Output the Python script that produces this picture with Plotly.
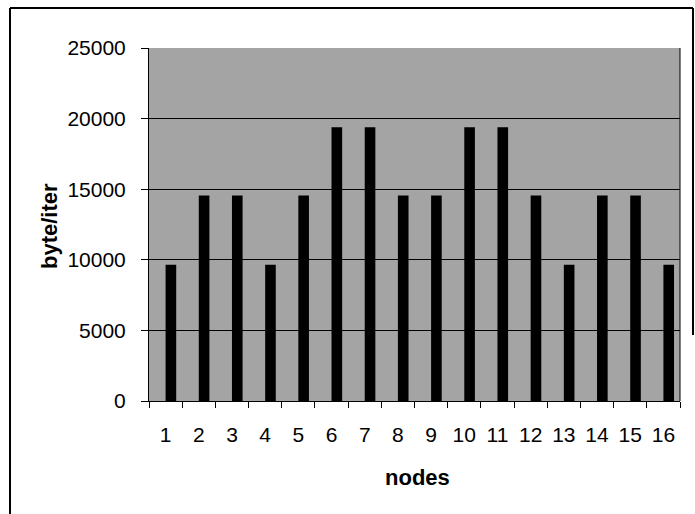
import plotly.graph_objects as go

nodes = [str(i) for i in range(1, 17)]
bytes_per_iter = [9650, 14550, 14550, 9650, 14550, 19380, 19380, 14550,
                  14550, 19380, 19380, 14550, 9650, 14550, 14550, 9650]
y_ticks = [0, 5000, 10000, 15000, 20000, 25000]

W, H = 695, 514
L, R, T, B = 149, 15, 48, 113
pw, ph = W - L - R, H - T - B

def px(x):
    return (x - L) / pw

def py(y):
    return (T + ph - y) / ph

font = "Liberation Sans, Arial, sans-serif"

fig = go.Figure(go.Bar(
    x=nodes, y=bytes_per_iter,
    width=0.32, offset=0.0,
    marker=dict(color="black", line=dict(width=0)),
))

frame = dict(color="black", width=2)

fig.update_layout(
    width=W, height=H,
    margin=dict(l=L, r=R, t=T, b=B),
    paper_bgcolor="white",
    plot_bgcolor="#a4a4a4",
    showlegend=False,
    font=dict(family=font, size=21, color="black"),
    xaxis=dict(
        type="category",
        tickson="boundaries",
        ticks="outside", ticklen=6, tickcolor="black", tickwidth=1,
        showline=True, linecolor="black", linewidth=1,
        showgrid=False,
        tickfont=dict(size=21),
        ticklabelstandoff=15,
    ),
    yaxis=dict(
        range=[0, 25000],
        tickvals=y_ticks,
        ticktext=[str(v) for v in y_ticks],
        ticks="outside", ticklen=7, tickcolor="black", tickwidth=1,
        showline=True, linecolor="black", linewidth=1,
        showgrid=True, gridcolor="black", gridwidth=1,
        tickfont=dict(size=21),
        ticklabelstandoff=11,
        zeroline=False,
    ),
    annotations=[
        dict(text="<b>byte/iter</b>", xref="paper", yref="paper",
             x=px(49), y=py(226), xanchor="center", yanchor="middle",
             textangle=-90, showarrow=False,
             font=dict(size=22, family=font)),
        dict(text="<b>nodes</b>", xref="paper", yref="paper",
             x=px(417), y=py(477), xanchor="center", yanchor="middle",
             showarrow=False,
             font=dict(size=22, family=font)),
    ],
    shapes=[
        dict(type="line", xref="paper", yref="paper",
             x0=px(10), x1=px(10), y0=py(540), y1=py(8), line=frame),
        dict(type="line", xref="paper", yref="paper",
             x0=px(10), x1=px(693), y0=py(8), y1=py(8), line=frame),
        dict(type="line", xref="paper", yref="paper",
             x0=px(693), x1=px(693), y0=py(8), y1=py(335), line=frame),
        dict(type="line", xref="paper", yref="paper",
             x0=1, x1=1, y0=0, y1=1,
             line=dict(color="black", width=1)),
    ],
)

fig.write_html("out.html")
